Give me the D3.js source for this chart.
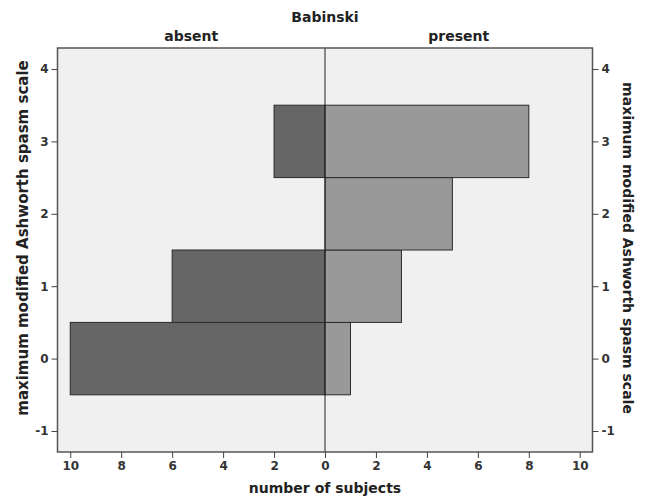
<!DOCTYPE html>
<html>
<head>
<meta charset="utf-8">
<script src="https://cdnjs.cloudflare.com/ajax/libs/d3/7.8.5/d3.min.js"></script>
<style>
  body { margin: 0; background: #fff; }
  svg text { font-family: "DejaVu Sans", sans-serif; font-weight: bold; fill: #222; }
  .tick text { font-size: 12px; fill: #333; }
  .tick line { stroke: #444; }
  .domain { display: none; }
  .title { font-size: 14px; }
  .ytitle { font-size: 15px; }
</style>
</head>
<body>
<svg id="chart" width="646" height="497"></svg>
<script>
// Modified Ashworth score categories and subject counts per group
var scores = [0, 1, 2, 3];
var absent = [10, 6, 0, 2];
var present = [1, 3, 5, 8];
var yTicks = [-1, 0, 1, 2, 3, 4];
var xTicks = [-10, -8, -6, -4, -2, 0, 2, 4, 6, 8, 10];

var svg = d3.select('#chart');
var plotL = 57.5, plotR = 592.5, plotT = 48, plotB = 452;

var x = d3.scaleLinear().domain([-10.5, 10.5]).range([plotL, plotR]);
var y = d3.scaleLinear().domain([-1.29, 4.29]).range([plotB, plotT]);

// plot background
svg.append('rect')
  .attr('x', plotL).attr('y', plotT)
  .attr('width', plotR - plotL).attr('height', plotB - plotT)
  .attr('fill', '#f0f0f0');

// bars
var absentRows = scores.map(function(s, i) { return { s: s, v: absent[i] }; }).filter(function(d) { return d.v > 0; });
var presentRows = scores.map(function(s, i) { return { s: s, v: present[i] }; }).filter(function(d) { return d.v > 0; });

svg.selectAll('rect.absent')
  .data(absentRows)
  .enter().append('rect')
    .attr('class', 'absent')
    .attr('x', function(d) { return x(-d.v); })
    .attr('y', function(d) { return y(d.s + 0.5); })
    .attr('width', function(d) { return x(0) - x(-d.v); })
    .attr('height', function(d) { return y(d.s - 0.5) - y(d.s + 0.5); })
    .attr('fill', '#666666')
    .attr('stroke', '#2a2a2a')
    .attr('stroke-width', 1);

svg.selectAll('rect.present')
  .data(presentRows)
  .enter().append('rect')
    .attr('class', 'present')
    .attr('x', x(0))
    .attr('y', function(d) { return y(d.s + 0.5); })
    .attr('width', function(d) { return x(d.v) - x(0); })
    .attr('height', function(d) { return y(d.s - 0.5) - y(d.s + 0.5); })
    .attr('fill', '#999999')
    .attr('stroke', '#2a2a2a')
    .attr('stroke-width', 1);

// centre line
svg.append('line')
  .attr('x1', x(0)).attr('x2', x(0))
  .attr('y1', plotT).attr('y2', plotB)
  .attr('stroke', '#222').attr('stroke-width', 1);

// frame
svg.append('rect')
  .attr('x', plotL).attr('y', plotT)
  .attr('width', plotR - plotL).attr('height', plotB - plotT)
  .attr('fill', 'none')
  .attr('stroke', '#555').attr('stroke-width', 1.5);

// axes
var fmt = function(d) { return String(d); };
svg.append('g')
  .attr('transform', 'translate(' + plotL + ',0)')
  .call(d3.axisLeft(y).tickValues(yTicks).tickSize(6).tickPadding(3).tickFormat(fmt));

svg.append('g')
  .attr('transform', 'translate(' + plotR + ',0)')
  .call(d3.axisRight(y).tickValues(yTicks).tickSize(6).tickPadding(3).tickFormat(fmt));

svg.append('g')
  .attr('transform', 'translate(0,' + plotB + ')')
  .call(d3.axisBottom(x).tickValues(xTicks).tickSize(6).tickPadding(3)
    .tickFormat(function(d) { return String(Math.abs(d)); }));

// titles
svg.append('text').attr('class', 'title')
  .attr('x', x(0)).attr('y', 22)
  .attr('text-anchor', 'middle')
  .text('Babinski');

svg.append('text').attr('class', 'title')
  .attr('x', (plotL + x(0)) / 2).attr('y', 41)
  .attr('text-anchor', 'middle')
  .text('absent');

svg.append('text').attr('class', 'title')
  .attr('x', (x(0) + plotR) / 2).attr('y', 41)
  .attr('text-anchor', 'middle')
  .text('present');

svg.append('text').attr('class', 'title')
  .attr('x', x(0)).attr('y', 493)
  .attr('text-anchor', 'middle')
  .text('number of subjects');

svg.append('text').attr('class', 'ytitle')
  .attr('transform', 'translate(28,' + ((plotT + plotB) / 2 - 12) + ') rotate(-90)')
  .attr('text-anchor', 'middle')
  .text('maximum modified Ashworth spasm scale');

svg.append('text').attr('class', 'title')
  .attr('transform', 'translate(623,248) rotate(90)')
  .attr('text-anchor', 'middle')
  .text('maximum modified Ashworth spasm scale');
</script>
</body>
</html>
